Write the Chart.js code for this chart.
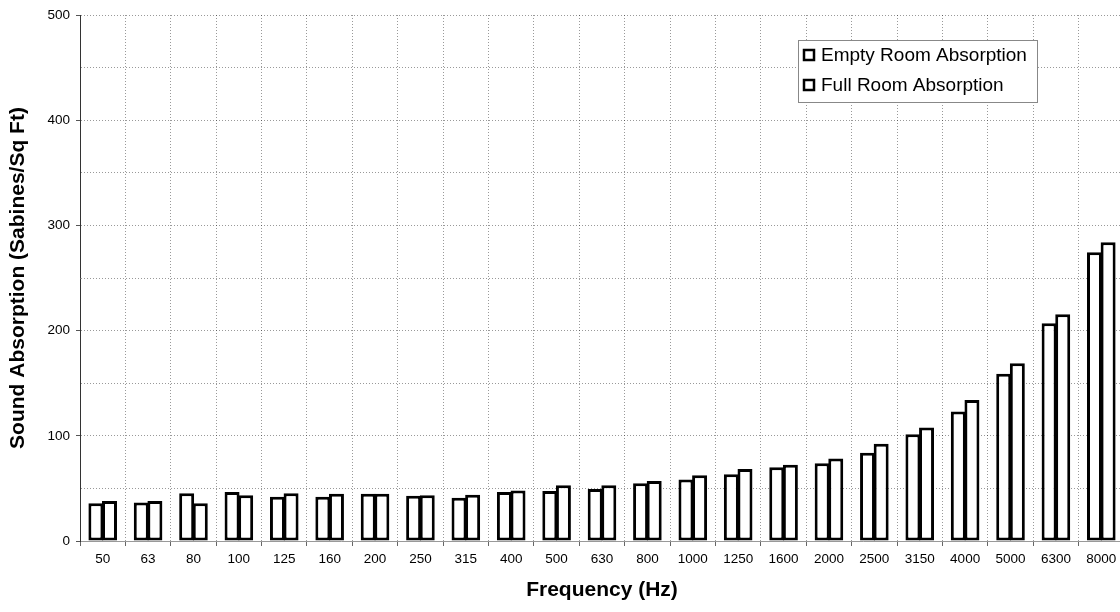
<!DOCTYPE html>
<html>
<head>
<meta charset="utf-8">
<script src="https://cdn.jsdelivr.net/npm/chart.js@4.4.1/dist/chart.umd.min.js"></script>
<style>
  html, body { margin: 0; padding: 0; background: #fff; overflow: hidden; }
</style>
</head>
<body>
<canvas id="absorptionChart" width="1124" height="612"></canvas>
<script>
// 1/3-octave band centres (Hz)
const frequencies = ['50', '63', '80', '100', '125', '160', '200', '250', '315', '400', '500', '630',
    '800', '1000', '1250', '1600', '2000', '2500', '3150', '4000', '5000', '6300', '8000'];

// Absorption in sabines per band
const emptyRoom = [36, 36.5, 45.5, 46.5, 42, 42, 45, 43, 41, 46.5, 47.5, 49.5,
    55, 58.5, 63.5, 70, 74, 84, 101.5, 123, 159, 207, 274.5];
const fullRoom = [38, 38, 36, 43.5, 45.5, 45, 45, 43.5, 44, 48, 53, 53,
    57, 62.5, 68.5, 72.5, 78.5, 92.5, 108, 134, 169, 215.5, 284];

const FONT = "'Liberation Sans', Arial, sans-serif";

// Boxed legend sitting inside the plot, top right
const boxLegend = {
    id: 'boxLegend',
    afterDraw(chart) {
        const ctx = chart.ctx;
        const x = 798, y = 40, w = 239, h = 62;
        ctx.save();
        ctx.fillStyle = '#fff';
        ctx.fillRect(x, y, w, h);
        ctx.strokeStyle = '#888';
        ctx.lineWidth = 1;
        ctx.strokeRect(x + 0.5, y + 0.5, w, h);
        ctx.font = '19px ' + FONT;
        ctx.textBaseline = 'middle';
        chart.data.datasets.forEach((ds, i) => {
            const cy = 55 + i * 30;
            ctx.fillStyle = '#fff';
            ctx.fillRect(804, cy - 5, 10, 10);
            ctx.strokeStyle = '#000';
            ctx.lineWidth = 2.5;
            ctx.strokeRect(804, cy - 5, 10, 10);
            ctx.fillStyle = '#000';
            ctx.fillText(ds.label, 821, cy + 1);
        });
        ctx.restore();
    }
};

const barStyle = {
    backgroundColor: '#fff',
    borderColor: '#000',
    borderWidth: 3,
    borderSkipped: false,
    categoryPercentage: 0.6,
    barPercentage: 1.1
};

const ctx = document.getElementById('absorptionChart').getContext('2d');
const chart = new Chart(ctx, {
    type: 'bar',
    data: {
        labels: frequencies,
        datasets: [
            Object.assign({ label: 'Empty Room Absorption', data: emptyRoom }, barStyle),
            Object.assign({ label: 'Full Room Absorption', data: fullRoom }, barStyle)
        ]
    },
    options: {
        responsive: false,
        animation: false,
        layout: { padding: { top: 15, right: 0, left: 0, bottom: 0 } },
        plugins: {
            legend: { display: false },
            tooltip: { enabled: false }
        },
        scales: {
            x: {
                grid: {
                    offset: true,
                    color: 'rgba(0,0,0,0.4)',
                    tickColor: '#666',
                    tickLength: 5
                },
                border: { color: '#999', width: 1, dash: [1, 2] },
                ticks: {
                    color: '#000',
                    padding: 5,
                    maxRotation: 0,
                    autoSkip: false,
                    font: { family: FONT, size: 13.5 }
                },
                title: {
                    display: true,
                    text: 'Frequency (Hz)',
                    color: '#000',
                    font: { family: FONT, size: 21, weight: 'bold' },
                    padding: { top: 0, bottom: 9 }
                },
                afterFit(scale) { scale.height = 71; }
            },
            y: {
                min: 0,
                max: 500,
                grid: {
                    color: 'rgba(0,0,0,0.4)',
                    tickColor: c => (c.tick && c.tick.value % 100 === 0) ? '#555' : 'rgba(0,0,0,0)',
                    tickLength: 4
                },
                border: { color: '#333', width: 1, dash: [1, 2] },
                ticks: {
                    stepSize: 50,
                    color: '#000',
                    padding: 6,
                    font: { family: FONT, size: 13.5 },
                    callback: v => (v % 100 === 0 ? v : '')
                },
                title: {
                    display: true,
                    text: 'Sound Absorption (Sabines/Sq Ft)',
                    color: '#000',
                    font: { family: FONT, size: 21, weight: 'bold' },
                    padding: { top: 6, bottom: 0 }
                },
                afterFit(scale) { scale.width = 80; }
            }
        }
    },
    plugins: [boxLegend]
});
</script>
</body>
</html>
